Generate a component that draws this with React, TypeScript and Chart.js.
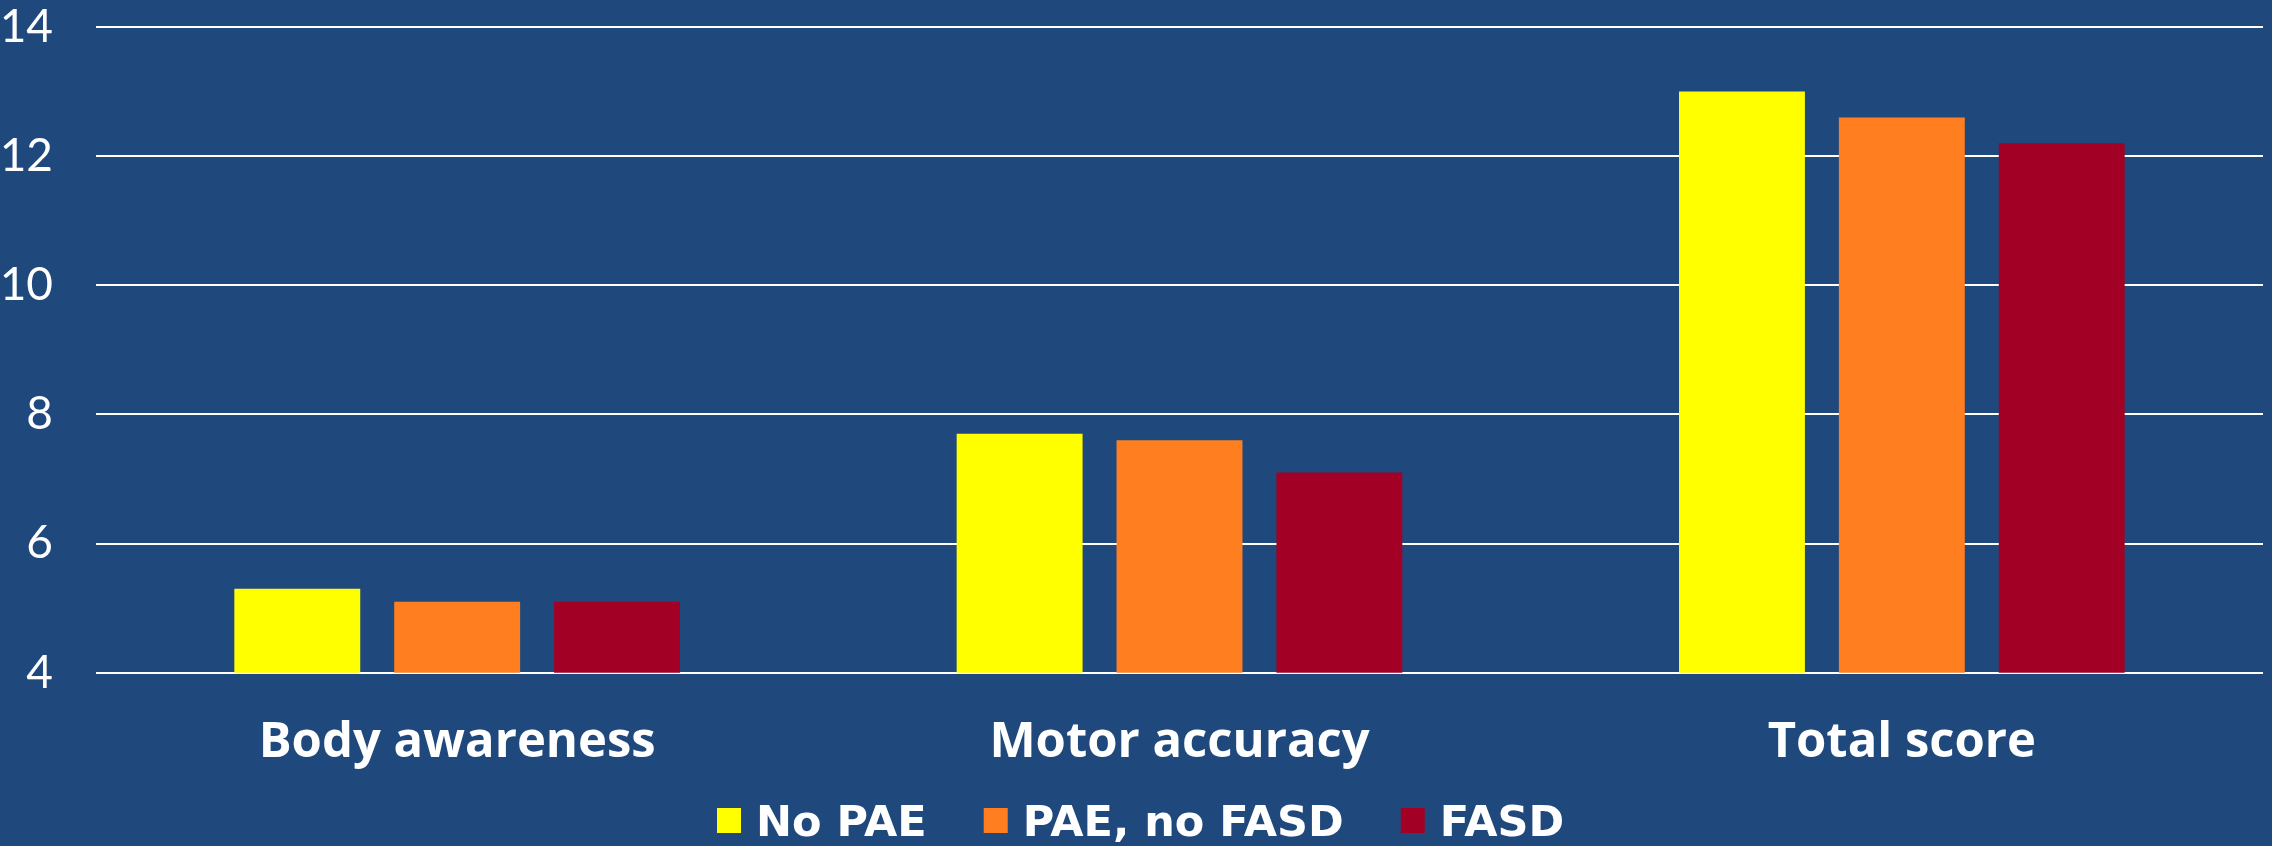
import React, { useEffect, useRef } from "react";
import { Chart, registerables } from "chart.js";

Chart.register(...registerables);

const categories = ["Body awareness", "Motor accuracy", "Total score"];
const seriesNames = ["No PAE", "PAE, no FASD", "FASD"];
const noPae = [5.3, 7.7, 13.0];
const paeNoFasd = [5.1, 7.6, 12.6];
const fasd = [5.1, 7.1, 12.2];
const seriesColors = ["#FFFF00", "#FF7F20", "#A20025"];
const yMin = 4;
const yMax = 14;
const yStep = 2;

const BG = "#1F497D";

const bgPlugin = {
  id: "bgFill",
  beforeDraw(chart: any) {
    const { ctx, width, height } = chart;
    ctx.save();
    ctx.fillStyle = BG;
    ctx.fillRect(0, 0, width, height);
    ctx.restore();
  },
};

const legendPlugin = {
  id: "customLegend",
  afterDraw(chart: any) {
    const { ctx } = chart;
    const datasets = chart.data.datasets;
    const font = "bold 43px 'DejaVu Sans'";
    let x = 717;
    const boxTop = 808;
    const boxW = 24;
    const boxH = 25;
    const baseline = 836;
    ctx.save();
    ctx.font = font;
    ctx.textBaseline = "alphabetic";
    ctx.textAlign = "left";
    datasets.forEach((ds: any) => {
      ctx.fillStyle = ds.backgroundColor;
      ctx.fillRect(x, boxTop, boxW, boxH);
      const tx = x + 39;
      const w = ctx.measureText(ds.label).width;
      ctx.fillStyle = "#FFFFFF";
      ctx.fillText(ds.label, tx, baseline);
      x = tx + w + 57;
    });
    ctx.restore();
  },
};

export default function App() {
  const ref = useRef<HTMLCanvasElement>(null);

  useEffect(() => {
    document.body.style.margin = "0";
    document.body.style.background = BG;
    document.body.style.overflow = "hidden";
    const values = [noPae, paeNoFasd, fasd];
    const chart = new Chart(ref.current!, {
      type: "bar",
      data: {
        labels: categories,
        datasets: seriesNames.map((name, i) => ({
          label: name,
          data: values[i],
          backgroundColor: seriesColors[i],
          borderWidth: 0,
          categoryPercentage: 0.664,
          barPercentage: 0.7875,
        })),
      },
      options: {
        animation: false,
        responsive: true,
        maintainAspectRatio: false,
        layout: { padding: { left: 0, right: 9, top: 27, bottom: 0 } },
        plugins: {
          legend: { display: false },
          tooltip: { enabled: false },
        },
        scales: {
          x: {
            grid: { display: false },
            border: { display: false },
            ticks: {
              color: "#FFFFFF",
              padding: 33,
              font: { family: "'Open Sans'", size: 49, weight: "bold" },
            },
            afterFit(scale: any) {
              scale.height = 173.3;
              scale.paddingTop = 0;
              scale.paddingBottom = 0;
            },
          },
          y: {
            min: yMin,
            max: yMax,
            border: { display: false },
            grid: { color: "#FFFFFF", lineWidth: 2, drawTicks: false },
            ticks: {
              stepSize: yStep,
              color: "#FFFFFF",
              padding: 43,
              font: { family: "Lato", size: 46, lineHeight: 1.17 },
            },
            afterFit(scale: any) {
              scale.width = 96;
              scale.paddingTop = 0;
              scale.paddingBottom = 0;
            },
          },
        },
      },
      plugins: [bgPlugin, legendPlugin],
    });
    return () => chart.destroy();
  }, []);

  return (
    <div style={{ width: "2272px", height: "846px", position: "relative" }}>
      <canvas ref={ref} />
    </div>
  );
}
